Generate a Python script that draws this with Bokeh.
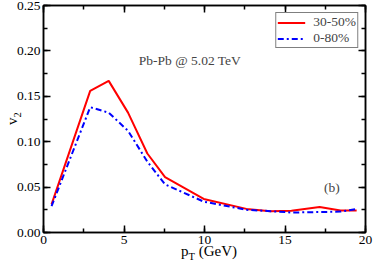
from bokeh.plotting import figure
from bokeh.models import (Range1d, SingleIntervalTicker, LinearAxis, NumeralTickFormatter,
                          Label, Legend, LegendItem, CustomLabelingPolicy, Div)
from bokeh.layouts import column
from bokeh.embed import file_html
from bokeh.resources import INLINE

# data
pt_red = [0.5, 2.9, 4.05, 5.25, 6.45, 7.55, 9.95, 12.6, 14.1, 15.4, 17.15, 18.45, 19.45]
v2_3050 = [0.031, 0.156, 0.167, 0.132, 0.087, 0.061, 0.037, 0.026, 0.0235, 0.024, 0.028, 0.0243, 0.0243]
pt_blue = [0.5, 2.9, 4.05, 5.25, 6.45, 7.55, 9.95, 12.6, 14.1, 15.4, 17.15, 18.45, 19.45]
v2_080 = [0.029, 0.138, 0.132, 0.112, 0.078, 0.053, 0.034, 0.025, 0.0235, 0.022, 0.0225, 0.023, 0.026]
labels = ["30-50%", "0-80%"]

SERIF = "Liberation Serif"
FS = "13.5px"

p = figure(width=374, height=264, output_backend="svg", toolbar_location=None,
           x_range=Range1d(0, 20), y_range=Range1d(0, 0.25),
           min_border_left=43, min_border_right=9, min_border_top=5, min_border_bottom=32,
           x_axis_location=None, y_axis_location=None)
p.grid.visible = False
p.outline_line_color = "black"
p.outline_line_width = 1.5
p.background_fill_color = "white"
p.border_fill_color = "white"

hide_all = CustomLabelingPolicy(code="""
const idx = [...indices]
for (const i of idx) indices.unset(i)
return indices
""")

def mk_axis(ticker, show_labels):
    ax = LinearAxis(ticker=ticker)
    ax.axis_line_color = "black"
    ax.axis_line_width = 1.5
    ax.major_tick_in = 7
    ax.major_tick_out = 0
    ax.minor_tick_in = 4
    ax.minor_tick_out = 0
    ax.major_tick_line_width = 1.5
    ax.minor_tick_line_width = 1.5
    ax.major_label_text_font = SERIF
    ax.major_label_text_color = "black"
    if show_labels:
        ax.major_label_text_font_size = FS
        ax.major_label_standoff = 3
    else:
        ax.major_label_text_font_size = "0px"
        ax.major_label_standoff = 0
        ax.major_label_policy = hide_all
    return ax

xt = SingleIntervalTicker(interval=5, num_minor_ticks=2)
yt = SingleIntervalTicker(interval=0.05, num_minor_ticks=2)

ax_b = mk_axis(xt, True)
ax_t = mk_axis(xt, False)
ay_l = mk_axis(yt, True)
ay_l.formatter = NumeralTickFormatter(format="0.00")
ay_r = mk_axis(yt, False)
p.add_layout(ax_b, "below")
p.add_layout(ax_t, "above")
p.add_layout(ay_l, "left")
p.add_layout(ay_r, "right")

r1 = p.line(pt_red, v2_3050, line_color="#ff0000", line_width=2)
r2 = p.line(pt_blue, v2_080, line_color="#0000ff", line_width=2, line_dash="6 3 2 3")

legend = Legend(items=[LegendItem(label=labels[0], renderers=[r1]),
                       LegendItem(label=labels[1], renderers=[r2])],
                location="top_right")
legend.label_text_font = SERIF
legend.label_text_font_size = FS
legend.label_height = 11
legend.glyph_height = 11
legend.glyph_width = 28
legend.label_standoff = 8
legend.spacing = 0
legend.padding = 1
legend.margin = 7
legend.border_line_color = "black"
legend.border_line_width = 1.5
legend.background_fill_alpha = 1
p.add_layout(legend, "center")

p.add_layout(Label(x=5.92, y=0.189, text="Pb-Pb @ 5.02 TeV", text_font=SERIF,
                   text_font_size=FS, text_baseline="alphabetic"))
p.add_layout(Label(x=17.43, y=0.0496, text="(b)", text_font=SERIF,
                   text_font_size=FS, text_baseline="alphabetic"))

# axis titles (with subscripts) as an HTML overlay
base = "position:absolute; font-family:'Liberation Serif'; font-size:15px; line-height:15px; white-space:nowrap; color:black;"
sub = "font-size:10.5px; vertical-align:-4px; line-height:0;"
html = (
    f'<div style="{base} left:181px; top:244px;">p<span style="{sub}">T</span> (GeV)</div>'
    f'<div style="{base} left:4.5px; top:125px; transform:rotate(-90deg); transform-origin:left top;">'
    f'v<span style="{sub}">2</span></div>'
)
titles = Div(text=html, width=374, height=264, margin=(-264, 0, 0, 0),
             styles={"position": "relative"})

layout = column(p, titles, spacing=0)
open("out.html", "w").write(file_html(layout, INLINE))
